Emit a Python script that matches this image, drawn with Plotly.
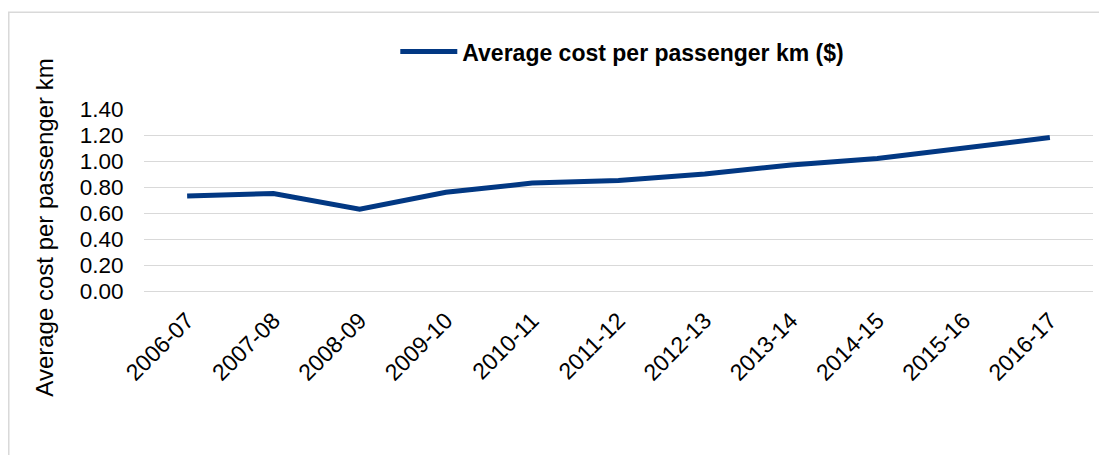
import plotly.graph_objects as go

years = ["2006-07", "2007-08", "2008-09", "2009-10", "2010-11", "2011-12",
         "2012-13", "2013-14", "2014-15", "2015-16", "2016-17"]
avg_cost = [0.73, 0.75, 0.63, 0.76, 0.83, 0.85, 0.90, 0.97, 1.02, 1.10, 1.18]
y_ticks = [0.0, 0.2, 0.4, 0.6, 0.8, 1.0, 1.2, 1.4]
y_ticklabels = ["0.00", "0.20", "0.40", "0.60", "0.80", "1.00", "1.20", "1.40"]
series_name = "Average cost per passenger km ($)"
y_title = "Average cost per passenger km"

FONT = "Arial, 'Liberation Sans', sans-serif"
LINE_COLOR = "#023883"
GRID = "#D9D9D9"

fig = go.Figure()
fig.add_trace(go.Scatter(
    x=years, y=avg_cost, mode="lines", name=series_name,
    line=dict(color=LINE_COLOR, width=5),
))

fig.update_layout(
    width=1099, height=447,
    margin=dict(l=136, r=14, t=101, b=164),
    paper_bgcolor="white", plot_bgcolor="white",
    font=dict(family=FONT, color="black", size=22),
    showlegend=True,
    legend=dict(
        orientation="h", x=0.504, xanchor="center", y=1.315, yanchor="middle",
        font=dict(family=FONT, size=23, color="black", weight="bold"),
        itemwidth=57, bgcolor="rgba(0,0,0,0)",
    ),
    xaxis=dict(
        type="category", range=[-0.5, 10.5], showgrid=False, showline=False,
        zeroline=False, tickangle=-45, tickfont=dict(size=23),
        ticks="outside", ticklen=6, tickcolor="rgba(0,0,0,0)",
    ),
    yaxis=dict(
        range=[0, 1.4], tickvals=y_ticks, ticktext=y_ticklabels,
        showgrid=True, gridcolor=GRID, gridwidth=1,
        zeroline=True, zerolinecolor=GRID, zerolinewidth=1, showline=False,
        ticks="outside", ticklen=15, tickcolor="rgba(0,0,0,0)",
        tickfont=dict(size=22.5),
    ),
    shapes=[dict(
        type="rect", xref="paper", yref="paper",
        x0=-0.1425, x1=1.05, y0=-1.0, y1=1.531,
        line=dict(color=GRID, width=1.5), fillcolor="rgba(0,0,0,0)", layer="below",
    )],
    annotations=[dict(
        text=y_title, xref="paper", yref="paper", x=-0.1043, y=0.348,
        xanchor="center", yanchor="middle", textangle=-90, showarrow=False,
        font=dict(family=FONT, size=24, color="black"),
    )],
)

fig.write_html("out.html")
